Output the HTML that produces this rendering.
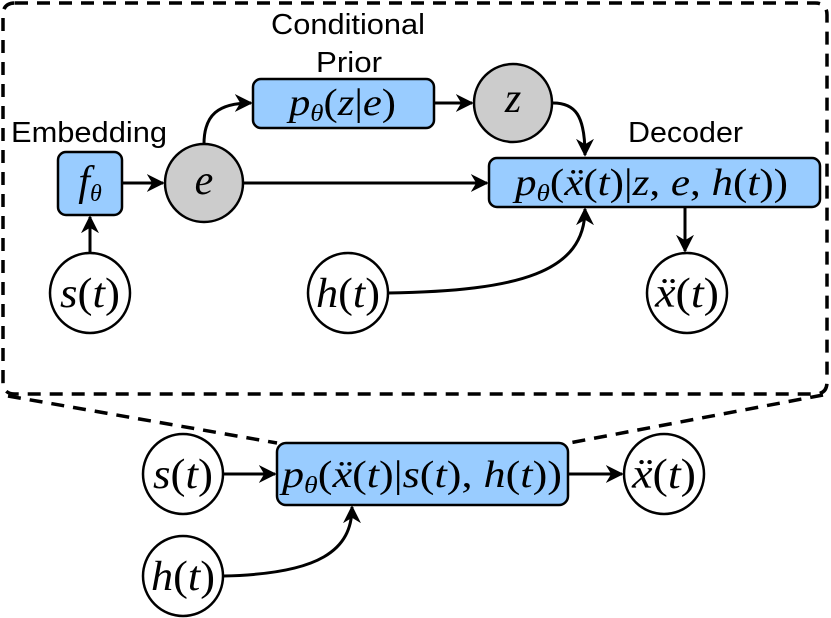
<!DOCTYPE html>
<html><head><meta charset="utf-8"><style>
html,body{margin:0;padding:0;background:#fff;}
svg{display:block;}
.lbl{font-family:"Liberation Sans",sans-serif;font-size:29px;fill:#000;}
.m{font-family:"Liberation Serif",serif;font-style:italic;font-size:38px;fill:#000;}
.c{font-size:42px;}
.u{font-style:normal;}
</style></head><body>
<svg width="831" height="618" viewBox="0 0 831 618" xmlns="http://www.w3.org/2000/svg">
<defs>
<marker id="a" viewBox="0 0 10 10" refX="9" refY="5" markerWidth="6" markerHeight="6" orient="auto" markerUnits="strokeWidth"><path d="M0,0 L10,5 L0,10 L3,5 z" fill="#000"/></marker>
</defs>
<g fill="none" stroke="#000" stroke-width="3.5" stroke-dasharray="13,9">
<path d="M15,3 H815 Q827,3 827,15 V382 Q827,394 815,394 H15 Q3,394 3,382 V15 Q3,3 15,3 Z"/>
<path d="M8,396 L277,443"/>
<path d="M823,395 L569,443"/>
</g>
<g stroke="#000" stroke-width="3" fill="none">
<line x1="122" y1="183" x2="163" y2="183" marker-end="url(#a)"/>
<path d="M204,144 C204,115 218,103 251,103" marker-end="url(#a)"/>
<line x1="434" y1="103" x2="472" y2="103" marker-end="url(#a)"/>
<path d="M553,103 C575,103 585,115 585,155" marker-end="url(#a)"/>
<line x1="243" y1="183" x2="487" y2="183" marker-end="url(#a)"/>
<path d="M388,293 C520,291 585,272 585,209" marker-end="url(#a)"/>
<line x1="685" y1="207" x2="685" y2="251" marker-end="url(#a)"/>
<line x1="90" y1="253" x2="90" y2="217" marker-end="url(#a)"/>
<line x1="223" y1="474" x2="275" y2="474" marker-end="url(#a)"/>
<line x1="568" y1="474" x2="622" y2="474" marker-end="url(#a)"/>
<path d="M223,576 C320,574 352,550 352,507" marker-end="url(#a)"/>
</g>
<g stroke="#000" stroke-width="2.5">
<rect x="58" y="152" width="64" height="63" rx="8" fill="#99ccff"/>
<rect x="253" y="79" width="181" height="49" rx="8" fill="#99ccff"/>
<rect x="489" y="158" width="331" height="49" rx="8" fill="#99ccff"/>
<rect x="277" y="443" width="291" height="62" rx="9" fill="#99ccff"/>
<circle cx="204" cy="183" r="39" fill="#cccccc"/>
<circle cx="513" cy="103" r="39" fill="#cccccc"/>
<circle cx="90" cy="293" r="40" fill="#fff"/>
<circle cx="348" cy="293" r="40" fill="#fff"/>
<circle cx="687" cy="293" r="40" fill="#fff"/>
<circle cx="183" cy="474" r="40" fill="#fff"/>
<circle cx="183" cy="576" r="40" fill="#fff"/>
<circle cx="664" cy="474" r="40" fill="#fff"/>
</g>
<text class="lbl" x="271" y="34" textLength="154" lengthAdjust="spacingAndGlyphs">Conditional</text>
<text class="lbl" x="316" y="72" textLength="66" lengthAdjust="spacingAndGlyphs">Prior</text>
<text class="lbl" x="11" y="142" textLength="156" lengthAdjust="spacingAndGlyphs">Embedding</text>
<text class="lbl" x="628" y="142" textLength="115" lengthAdjust="spacingAndGlyphs">Decoder</text>
<text class="m c" x="90" y="195" text-anchor="middle">f<tspan font-size="24" dy="6">θ</tspan></text>
<text class="m c" x="204" y="194" text-anchor="middle">e</text>
<text class="m c" x="513" y="112" text-anchor="middle">z</text>
<text class="m" x="289" y="115" textLength="107" lengthAdjust="spacingAndGlyphs">p<tspan font-size="24" dy="6">θ</tspan><tspan class="u" dy="-6">(</tspan>z<tspan class="u">|</tspan>e<tspan class="u">)</tspan></text>
<text class="m" x="515" y="195" textLength="273" lengthAdjust="spacingAndGlyphs">p<tspan font-size="24" dy="6">θ</tspan><tspan class="u" dy="-6">(</tspan>ẍ<tspan class="u">(</tspan>t<tspan class="u">)|</tspan>z<tspan class="u">, </tspan>e<tspan class="u">, </tspan>h<tspan class="u">(</tspan>t<tspan class="u">))</tspan></text>
<text class="m c" x="60" y="307" textLength="60" lengthAdjust="spacingAndGlyphs">s<tspan class="u">(</tspan>t<tspan class="u">)</tspan></text>
<text class="m c" x="316" y="307" textLength="64" lengthAdjust="spacingAndGlyphs">h<tspan class="u">(</tspan>t<tspan class="u">)</tspan></text>
<text class="m c" x="655" y="307" textLength="64" lengthAdjust="spacingAndGlyphs">ẍ<tspan class="u">(</tspan>t<tspan class="u">)</tspan></text>
<text class="m" x="282" y="487" textLength="280" lengthAdjust="spacingAndGlyphs">p<tspan font-size="24" dy="6">θ</tspan><tspan class="u" dy="-6">(</tspan>ẍ<tspan class="u">(</tspan>t<tspan class="u">)|</tspan>s<tspan class="u">(</tspan>t<tspan class="u">), </tspan>h<tspan class="u">(</tspan>t<tspan class="u">))</tspan></text>
<text class="m c" x="153" y="488" textLength="60" lengthAdjust="spacingAndGlyphs">s<tspan class="u">(</tspan>t<tspan class="u">)</tspan></text>
<text class="m c" x="151" y="590" textLength="64" lengthAdjust="spacingAndGlyphs">h<tspan class="u">(</tspan>t<tspan class="u">)</tspan></text>
<text class="m c" x="632" y="488" textLength="64" lengthAdjust="spacingAndGlyphs">ẍ<tspan class="u">(</tspan>t<tspan class="u">)</tspan></text>
</svg>
</body></html>
